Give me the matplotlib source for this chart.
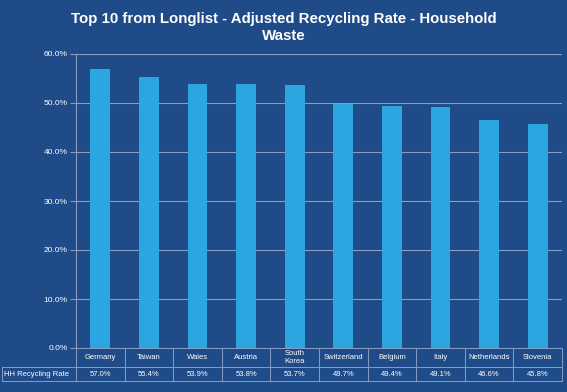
import matplotlib
matplotlib.use("Agg")
import matplotlib.pyplot as plt
from matplotlib.transforms import blended_transform_factory

categories = ["Germany", "Taiwan", "Wales", "Austria", "South\nKorea", "Switzerland",
              "Belgium", "Italy", "Netherlands", "Slovenia"]
values = [57.0, 55.4, 53.9, 53.8, 53.7, 49.7, 49.4, 49.1, 46.6, 45.8]
row_label = "HH Recycling Rate"
title = "Top 10 from Longlist - Adjusted Recycling Rate - Household\nWaste"
yticks = [0, 10, 20, 30, 40, 50, 60]

BG = "#1F4B88"
BAR = "#2BA6E0"
GRID = "#8A9CC0"
plt.rcParams['font.family'] = ['Liberation Sans', 'DejaVu Sans']

L, R, T, B = 76, 562, 54, 348
fig = plt.figure(figsize=(5.67, 3.92), dpi=100, facecolor=BG)
ax = fig.add_axes([L/567, 1-B/392, (R-L)/567, (B-T)/392])
ax.set_facecolor(BG)
x = list(range(len(categories)))
ax.bar(x, values, width=0.41, color=BAR, zorder=3)
ax.set_xlim(-0.5, len(categories)-0.5)
ax.set_ylim(0, 60)
ax.set_yticks(yticks)
ax.set_yticklabels([f"{v:.1f}%" for v in yticks], color="white", fontsize=6)
ax.tick_params(axis='y', length=4, color=GRID, pad=2)
ax.set_xticks([])
ax.grid(axis='y', color=GRID, linewidth=0.8, zorder=0)
for s in ["top", "right", "bottom"]:
    ax.spines[s].set_visible(False)
ax.spines["left"].set_color(GRID)
ax.spines["left"].set_linewidth(0.8)

fig.text(0.5, 1-12/392, title, ha="center", va="top", color="white",
         fontsize=10.8, fontweight="bold", linespacing=1.25)

# table
trans = blended_transform_factory(ax.transData, ax.transAxes)
h = float(B - T)
y0 = 0.0
y1 = -19/h
y2 = -33/h
lw = 0.7
for yy in (y0, y1, y2):
    ax.plot([-0.5, 9.5], [yy, yy], transform=trans, color=GRID, lw=lw, clip_on=False)
for i in range(len(categories)+1):
    ax.plot([i-0.5, i-0.5], [y0, y2], transform=trans, color=GRID, lw=lw, clip_on=False)
fx0, fx1 = 2/567, L/567
fy1, fy2 = 1-(B+19)/392, 1-(B+33)/392
for xs, ys in [([fx0, fx1], [fy1, fy1]), ([fx0, fx1], [fy2, fy2]), ([fx0, fx0], [fy1, fy2])]:
    fig.add_artist(plt.Line2D(xs, ys, color=GRID, lw=lw))
fig.text(fx0 + 2/567, (fy1+fy2)/2, row_label, color="white", fontsize=5.5,
         ha="left", va="center")
for i, (c, v) in enumerate(zip(categories, values)):
    ax.text(i, (y0+y1)/2, c, transform=trans, ha="center", va="center",
            color="white", fontsize=5.5, linespacing=1.05)
    ax.text(i, (y1+y2)/2, f"{v:.1f}%", transform=trans, ha="center", va="center",
            color="white", fontsize=5.5)

fig.savefig("out.png", dpi=100, facecolor=BG)
